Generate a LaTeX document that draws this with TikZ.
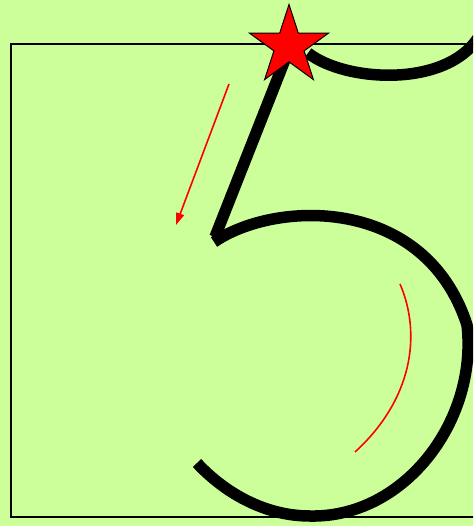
\documentclass[tikz,border=0pt]{standalone}
\usetikzlibrary{shapes.geometric,arrows.meta}
\definecolor{paper}{RGB}{204,255,153}
\begin{document}
\begin{tikzpicture}[x=1pt,y=-1pt,
        stroke/.style={line width=11.5pt,black},
        guide/.style={line width=1.6pt,red}]
        % Draw background and bounding box
        \fill[paper] (0,0) rectangle (473,526);
        \useasboundingbox (0,0) rectangle (473,526);
        \clip (0,0) rectangle (473,526);
        % Draw frame
        \draw[line width=1.5pt] (11,44) rectangle (490,517);
        % Draw top stroke of the five
        \draw[stroke] (308,53) .. controls (345,82) and (445,88) .. (478,38);
        % Draw stem of the five
        \draw[stroke] (288,52) -- (215,237);
        % Draw bowl of the five
        \draw[stroke] (214,242)
            .. controls (275,200) and (425,195) .. (467,325)
            .. controls (478,420) and (405,518) .. (310,516)
            .. controls (262,516) and (222,490) .. (197,463);
        % Draw direction arrow
        \draw[guide,-{Triangle[length=12pt,width=8pt]}] (229,84) -- (176,225);
        % Draw direction arc
        \draw[guide] (400,284) .. controls (422,335) and (412,400) .. (355,452);
        % Draw start star
        \node[star,star points=5,star point ratio=2.618,minimum size=83pt,
            inner sep=0pt,fill=red,draw=black,line width=1pt] (start) at (289,46) {};
    \end{tikzpicture}
\end{document}
